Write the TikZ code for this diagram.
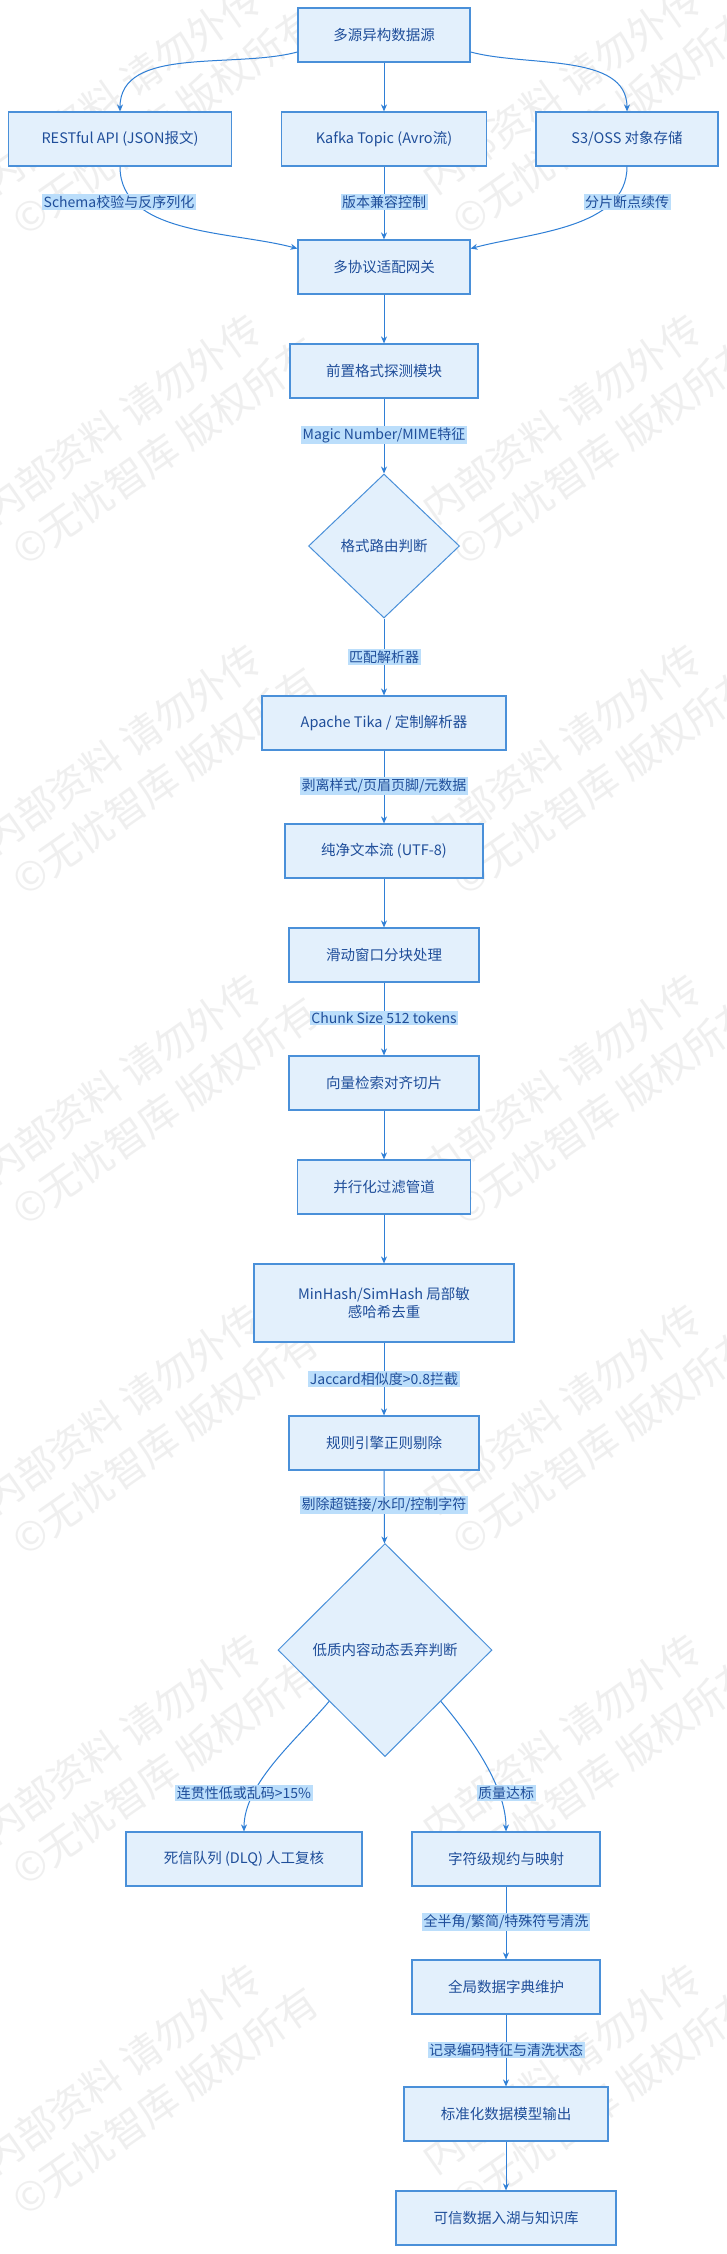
\documentclass[tikz,border=0pt]{standalone}
\usepackage{fontspec}
\setmainfont{Noto Sans CJK SC}
\usetikzlibrary{shapes.geometric,arrows.meta,calc}
\definecolor{bfill}{HTML}{E3F0FC}
\definecolor{bdraw}{HTML}{4A90D9}
\definecolor{btext}{HTML}{1F4E9A}
\definecolor{lfill}{HTML}{BBDEFB}
\definecolor{ecol}{HTML}{2F7FD6}
\tikzset{
  box/.style={draw=bdraw,fill=bfill,line width=1.2pt,text=btext,font=\fontsize{14.5}{18}\selectfont,inner sep=2pt,align=center},
  dia/.style={diamond,draw=bdraw,fill=bfill,line width=1pt,text=btext,font=\fontsize{14.5}{18}\selectfont,inner sep=0pt},
  lbl/.style={fill=lfill,text=btext,font=\fontsize{14}{17}\selectfont,inner sep=1.5pt},
  arr/.style={draw=ecol,line width=1pt,-{Stealth[length=7pt,width=6pt]}},
  wm/.style={text=black!55,opacity=0.11,font=\fontsize{40}{52}\selectfont,rotate=35,align=left}
}
\begin{document}
\begin{tikzpicture}[x=1pt,y=-1pt]
\useasboundingbox[fill=white] (0,0) rectangle (726,2254);
% watermarks
\foreach \yy in {0,330,...,2300}{
  \foreach \xx in {150,590}{
    \node[wm] at (\xx,\yy+100) {内部资料 请勿外传\\©无忧智库 版权所有};
  }
}
% nodes
\node[box,minimum width=172pt,minimum height=54pt] (src) at (384,35) {多源异构数据源};
\node[box,minimum width=223pt,minimum height=54pt] (rest) at (120,139) {RESTful API (JSON报文)};
\node[box,minimum width=205pt,minimum height=54pt] (kafka) at (384,139) {Kafka Topic (Avro流)};
\node[box,minimum width=182pt,minimum height=54pt] (s3) at (627,139) {S3/OSS 对象存储};
\node[box,minimum width=172pt,minimum height=54pt] (gw) at (384,267) {多协议适配网关};
\node[box,minimum width=188pt,minimum height=54pt] (probe) at (384,371) {前置格式探测模块};
\node[dia,minimum width=151pt,minimum height=144pt] (route) at (384,546) {格式路由判断};
\node[box,minimum width=244pt,minimum height=54pt] (tika) at (384,723) {Apache Tika / 定制解析器};
\node[box,minimum width=198pt,minimum height=54pt] (pure) at (384,851) {纯净文本流 (UTF-8)};
\node[box,minimum width=190pt,minimum height=54pt] (slide) at (384,955) {滑动窗口分块处理};
\node[box,minimum width=190pt,minimum height=54pt] (vec) at (384,1083) {向量检索对齐切片};
\node[box,minimum width=173pt,minimum height=54pt] (par) at (384,1187) {并行化过滤管道};
\node[box,minimum width=260pt,minimum height=78pt] (hash) at (384,1303) {MinHash/SimHash 局部敏\\感哈希去重};
\node[box,minimum width=190pt,minimum height=54pt] (rule) at (384,1443) {规则引擎正则剔除};
\node[dia,minimum width=214pt,minimum height=213pt] (lowq) at (385,1650) {低质内容动态丢弃判断};
\node[box,minimum width=236pt,minimum height=54pt] (dlq) at (244,1859) {死信队列 (DLQ) 人工复核};
\node[box,minimum width=188pt,minimum height=54pt] (norm) at (506,1859) {字符级规约与映射};
\node[box,minimum width=188pt,minimum height=54pt] (dict) at (506,1987) {全局数据字典维护};
\node[box,minimum width=204pt,minimum height=54pt] (out) at (506,2114) {标准化数据模型输出};
\node[box,minimum width=220pt,minimum height=54pt] (lake) at (506,2218) {可信数据入湖与知识库};
\coordinate (lqL) at ($(lowq.west)!0.48!(lowq.south)$);
\coordinate (lqR) at ($(lowq.east)!0.48!(lowq.south)$);
% edges
\draw[arr] (src.west |- 0,52) to[out=195,in=90,looseness=0.9] (rest.north);
\draw[arr] (src) -- (kafka);
\draw[arr] (src.east |- 0,52) to[out=-15,in=90,looseness=0.9] (s3.north);
\draw[arr] (rest.south) to[out=-90,in=165,looseness=0.9] (gw.168);
\draw[arr] (kafka) -- (gw);
\draw[arr] (s3.south) to[out=-90,in=15,looseness=0.9] (gw.12);
\draw[arr] (gw) -- (probe);
\draw[arr] (probe) -- (route);
\draw[arr] (route) -- (tika);
\draw[arr] (tika) -- (pure);
\draw[arr] (pure) -- (slide);
\draw[arr] (slide) -- (vec);
\draw[arr] (vec) -- (par);
\draw[arr] (par) -- (hash);
\draw[arr] (hash) -- (rule);
\draw[arr] (rule) -- (lowq);
\draw[arr] (lqL) to[out=-130,in=90,looseness=0.8] (dlq.north);
\draw[arr] (lqR) to[out=-50,in=90,looseness=0.8] (norm.north);
\draw[arr] (norm) -- (dict);
\draw[arr] (dict) -- (out);
\draw[arr] (out) -- (lake);
% edge labels
\node[lbl] at (119,202) {Schema校验与反序列化};
\node[lbl] at (384,202) {版本兼容控制};
\node[lbl] at (627,202) {分片断点续传};
\node[lbl] at (384,435) {Magic Number/MIME特征};
\node[lbl] at (384,657) {匹配解析器};
\node[lbl] at (384,786) {剥离样式/页眉页脚/元数据};
\node[lbl] at (384,1018) {Chunk Size 512 tokens};
\node[lbl] at (384,1379) {Jaccard相似度>0.8拦截};
\node[lbl] at (384,1505) {剔除超链接/水印/控制字符};
\node[lbl] at (244,1793) {连贯性低或乱码>15\%};
\node[lbl] at (506,1793) {质量达标};
\node[lbl] at (506,1922) {全半角/繁简/特殊符号清洗};
\node[lbl] at (506,2050) {记录编码特征与清洗状态};
\end{tikzpicture}
\end{document}
